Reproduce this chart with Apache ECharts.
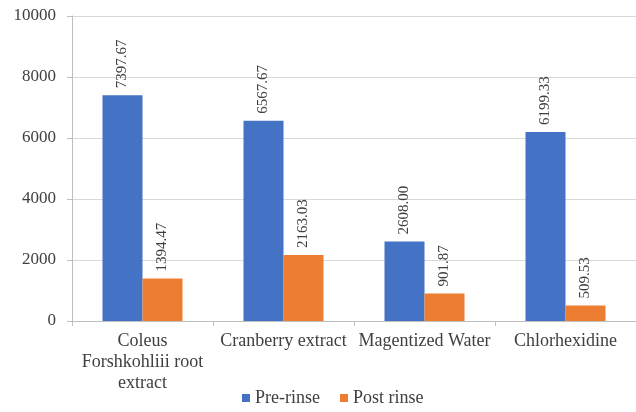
<!DOCTYPE html>
<html>
<head>
<meta charset="utf-8">
<script src="https://cdn.jsdelivr.net/npm/echarts@6/dist/echarts.min.js"></script>
<style>
  html, body { margin: 0; padding: 0; background: #fff; }
  #chart { width: 636px; height: 412px; }
</style>
</head>
<body>
<div id="chart"></div>
<script>
var categories = ['Coleus\nForshkohliii root\nextract', 'Cranberry extract', 'Magentized Water', 'Chlorhexidine'];
var preRinse = [7397.67, 6567.67, 2608.00, 6199.33];
var postRinse = [1394.47, 2163.03, 901.87, 509.53];
var yTicks = { min: 0, max: 10000, step: 2000 };

var font = '"Liberation Serif", "Times New Roman", serif';
var textColor = '#404040';

var chart = echarts.init(document.getElementById('chart'), null, { renderer: 'canvas' });

function valueLabel() {
  return {
    show: true,
    position: 'top',
    rotate: 90,
    align: 'left',
    verticalAlign: 'middle',
    distance: 7,
    fontFamily: font,
    fontSize: 15,
    color: textColor,
    formatter: function (p) { return p.value.toFixed(2); }
  };
}

var option = {
  animation: false,
  textStyle: { fontFamily: font },
  grid: { left: 72, right: 0, top: 16, bottom: 91 },
  legend: {
    data: ['Pre-rinse', 'Post rinse'],
    bottom: 0,
    left: 237,
    icon: 'rect',
    itemWidth: 8,
    itemHeight: 8,
    itemGap: 20,
    textStyle: { fontFamily: font, fontSize: 18, color: textColor }
  },
  xAxis: {
    type: 'category',
    data: categories,
    axisLine: { lineStyle: { color: '#bfbfbf' } },
    axisTick: { show: true, length: 5, lineStyle: { color: '#bfbfbf' } },
    axisLabel: {
      interval: 0,
      margin: 10,
      fontFamily: font,
      fontSize: 18,
      lineHeight: 21,
      color: textColor
    }
  },
  yAxis: {
    type: 'value',
    min: yTicks.min,
    max: yTicks.max,
    interval: yTicks.step,
    axisLine: { show: true, lineStyle: { color: '#bfbfbf' } },
    axisTick: { show: true, length: 5, lineStyle: { color: '#bfbfbf' } },
    axisLabel: {
      margin: 16,
      fontFamily: font,
      fontSize: 17,
      color: textColor,
      formatter: function (v) { return String(v); }
    },
    splitLine: { lineStyle: { color: '#d9d9d9' } }
  },
  series: [
    {
      name: 'Pre-rinse',
      type: 'bar',
      barWidth: 40,
      barGap: 0,
      itemStyle: { color: '#4472C4' },
      label: valueLabel(),
      data: preRinse
    },
    {
      name: 'Post rinse',
      type: 'bar',
      barWidth: 40,
      barGap: 0,
      itemStyle: { color: '#ED7D31' },
      label: valueLabel(),
      data: postRinse
    }
  ]
};

chart.setOption(option);
</script>
</body>
</html>
